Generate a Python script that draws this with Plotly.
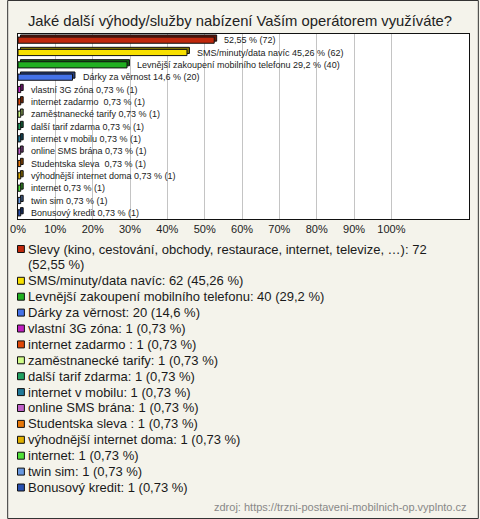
import plotly.graph_objects as go

title = "Jaké další výhody/služby nabízení Vaším operátorem využíváte?"
names = [
    "Slevy (kino, cestování, obchody, restaurace, internet, televize, …)",
    "SMS/minuty/data navíc",
    "Levnější zakoupení mobilního telefonu",
    "Dárky za věrnost",
    "vlastní 3G zóna",
    "internet zadarmo ",
    "zaměstnanecké tarify",
    "další tarif zdarma",
    "internet v mobilu",
    "online SMS brána",
    "Studentska sleva ",
    "výhodnější internet doma",
    "internet",
    "twin sim",
    "Bonusový kredit",
]
bar_names = [""] + names[1:]
counts = [72, 62, 40, 20, 1, 1, 1, 1, 1, 1, 1, 1, 1, 1, 1]
pcts = [52.55, 45.26, 29.2, 14.6, 0.73, 0.73, 0.73, 0.73, 0.73, 0.73, 0.73, 0.73, 0.73, 0.73, 0.73]
pct_text = ["52,55", "45,26", "29,2", "14,6"] + ["0,73"] * 11
colors = ["#c0280c", "#f8e000", "#20b020", "#4472e8", "#c020c0", "#e04808",
          "#d0fc88", "#20a060", "#207898", "#c060c8", "#e87808", "#e0b000",
          "#50e038", "#6898e0", "#2850b0"]
tick_vals = [0, 10, 20, 30, 40, 50, 60, 70, 80, 90, 100]
tick_text = [f"{v}%" for v in tick_vals]
source = "zdroj: https://trzni-postaveni-mobilnich-op.vyplnto.cz"

W, H = 480, 519
L, R, T, B = 11, 470, 34, 219
FONT = "Liberation Sans, Arial, sans-serif"
X_MAX = (R - L) / 3.8


def px_x(px):
    return (px - L) / (R - L)


def px_y(py):
    return (B - py) / (B - T)


def darker(h, f=0.55):
    h = h.lstrip("#")
    r, g, b = (int(h[i:i + 2], 16) for i in (0, 2, 4))
    return "#%02x%02x%02x" % (int(r * f), int(g * f), int(b * f))


idx = list(range(len(names)))
depth = 2.5 * X_MAX / (R - L)  # ~2.5 px 3D depth
fig = go.Figure()
# 3D back face
fig.add_trace(go.Bar(
    x=pcts, y=idx, base=[depth] * len(pcts), orientation="h", width=0.5, offset=-0.42,
    marker=dict(color=[darker(c) for c in colors], line=dict(color="#111111", width=1)),
    showlegend=False, hoverinfo="skip",
))
fig.add_trace(go.Bar(
    x=pcts, y=idx, orientation="h", width=0.5, offset=-0.25,
    marker=dict(color=colors, line=dict(color="#111111", width=1)),
    showlegend=False, hoverinfo="skip",
))

annotations = []
for i, (n, p, pt, c) in enumerate(zip(bar_names, pcts, pct_text, counts)):
    label = (n + " " if n else "") + f"{pt} % ({c})"
    annotations.append(dict(
        x=p, y=i, xref="x", yref="y", text=label, showarrow=False,
        xanchor="left", yanchor="middle", xshift=8,
        font=dict(size=9, color="#222222", family=FONT),
    ))


def wrap(s, width=72):
    words = s.split(" ")
    lines, cur = [], ""
    for w in words:
        cand = w if cur == "" else cur + " " + w
        if len(cand) > width and cur:
            lines.append(cur)
            cur = w
        else:
            cur = cand
    lines.append(cur)
    return lines


shapes = []
line_k = 0
y0_px, step = 249, 15.9
for i, (n, c, pt, col) in enumerate(zip(names, counts, pct_text, colors)):
    text = f"{n}: {c} ({pt} %)"
    lines = wrap(text)
    yc = y0_px + line_k * step
    shapes.append(dict(
        type="rect", xref="paper", yref="paper",
        x0=px_x(10.5), x1=px_x(17.5), y0=px_y(yc - 3.5), y1=px_y(yc + 3.5),
        fillcolor=col, line=dict(color="#111111", width=1), layer="above",
    ))
    for ln in lines:
        yy = y0_px + line_k * step
        annotations.append(dict(
            x=px_x(19), y=px_y(yy), xref="paper", yref="paper", text=ln,
            showarrow=False, xanchor="left", yanchor="middle",
            font=dict(size=13, color="#1a1a1a", family=FONT),
        ))
        line_k += 1

annotations.append(dict(
    x=px_x(470), y=px_y(507), xref="paper", yref="paper", text=source,
    showarrow=False, xanchor="right", yanchor="middle",
    font=dict(size=11, color="#888888", family=FONT),
))

# outer frame
shapes.append(dict(
    type="rect", xref="paper", yref="paper",
    x0=px_x(0.5), x1=px_x(W - 0.5), y0=px_y(0.5), y1=px_y(H - 0.5),
    line=dict(color="#333333", width=1), layer="above",
))

fig.update_layout(
    width=W, height=H,
    margin=dict(l=L, r=W - R, t=T, b=H - B, pad=0),
    paper_bgcolor="#f4f3eb", plot_bgcolor="#ffffff",
    title=dict(text=title, x=0.5, xanchor="center", xref="container",
               y=(H - 21) / H, yref="container", yanchor="middle",
               font=dict(size=14.8, color="#222222", family=FONT)),
    xaxis=dict(range=[0, X_MAX], tickvals=tick_vals, ticktext=tick_text,
               showgrid=True, gridcolor="#c4c4c4", gridwidth=1, zeroline=False,
               showline=True, linecolor="#111111", linewidth=1, mirror=True,
               ticks="", tickfont=dict(size=11, color="#222222", family=FONT),
               fixedrange=True),
    yaxis=dict(range=[len(names) - 0.5, -0.5], showticklabels=False, showgrid=False,
               zeroline=False, showline=True, linecolor="#111111", linewidth=1,
               mirror=True, ticks="", fixedrange=True),
    barmode="overlay",
    annotations=annotations, shapes=shapes,
    font=dict(family=FONT),
)

fig.write_html(
    "out.html",
    config={"displayModeBar": False},
    post_script="document.body.style.margin='0';document.body.style.overflow='hidden';",
)
